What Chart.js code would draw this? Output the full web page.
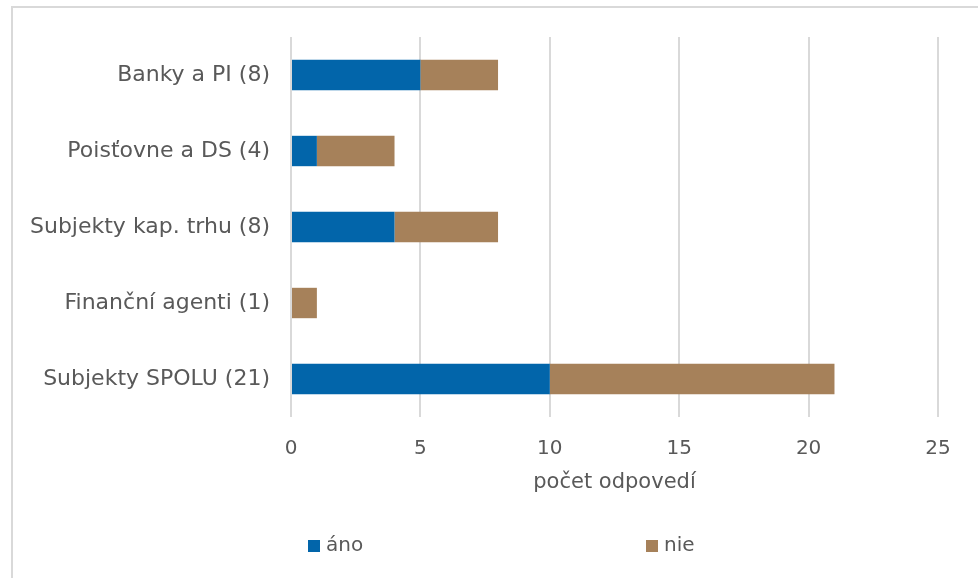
<!DOCTYPE html>
<html>
<head>
<meta charset="utf-8">
<script src="https://cdn.jsdelivr.net/npm/chart.js@4"></script>
<style>
    body { margin: 0; background: #fff; overflow: hidden; }
    #frame { position: absolute; left: 11px; top: 6px; width: 1100px; height: 700px; border: 2px solid #d9d9d9; }
    #chart { position: absolute; left: 0; top: 0; }
</style>
</head>
<body>
<div id="frame"></div>
<canvas id="chart" width="978" height="578"></canvas>
<script>
// categories and answers (áno / nie)
const categories = ['Banky a PI (8)', 'Poisťovne a DS (4)', 'Subjekty kap. trhu (8)', 'Finanční agenti (1)', 'Subjekty SPOLU (21)'];
const anoValues = [5, 1, 4, 0, 10];
const nieValues = [3, 3, 4, 1, 11];
const seriesNames = ['áno', 'nie'];
const seriesColors = ['#0265aa', '#a6815a'];
const axisTitle = 'počet odpovedí';

const textColor = '#595959';
const fontFamily = "'DejaVu Sans', Verdana, sans-serif";

// legend drawn in one wide row like the original
const spreadLegend = {
    id: 'spreadLegend',
    afterDraw(chart, args, opts) {
        const ctx = chart.ctx;
        ctx.save();
        ctx.font = `${opts.size}px ${fontFamily}`;
        ctx.textBaseline = 'middle';
        chart.data.datasets.forEach((ds, i) => {
            const x = opts.xs[i];
            ctx.fillStyle = ds.backgroundColor;
            ctx.fillRect(x, opts.y - opts.box / 2, opts.box, opts.box);
            ctx.fillStyle = textColor;
            ctx.fillText(ds.label, x + opts.box + 6, opts.y);
        });
        ctx.restore();
    }
};

new Chart(document.getElementById('chart'), {
    type: 'bar',
    data: {
        labels: categories,
        datasets: [
            { label: seriesNames[0], data: anoValues, backgroundColor: seriesColors[0] },
            { label: seriesNames[1], data: nieValues, backgroundColor: seriesColors[1] }
        ]
    },
    options: {
        indexAxis: 'y',
        responsive: false,
        animation: false,
        categoryPercentage: 1,
        barPercentage: 0.4,
        layout: { padding: { top: 37, right: 40, bottom: 79, left: 0 } },
        scales: {
            x: {
                stacked: true,
                min: 0,
                max: 25,
                ticks: { stepSize: 5, color: textColor, padding: 20, font: { family: fontFamily, size: 20 } },
                grid: { color: '#d9d9d9', lineWidth: 2, drawTicks: false },
                border: { display: false },
                title: {
                    display: true,
                    text: axisTitle,
                    color: textColor,
                    padding: { top: 4, bottom: 4 },
                    font: { family: fontFamily, size: 21 }
                },
                afterFit(scale) { scale.height = 82; }
            },
            y: {
                stacked: true,
                ticks: { color: textColor, padding: 21, font: { family: fontFamily, size: 22 } },
                grid: { display: false, drawTicks: false },
                border: { display: false },
                afterFit(scale) { scale.width = 291; }
            }
        },
        plugins: {
            legend: { display: false },
            tooltip: { enabled: false },
            spreadLegend: { xs: [308, 646], y: 546, box: 12, size: 20 }
        }
    },
    plugins: [spreadLegend]
});
</script>
</body>
</html>
